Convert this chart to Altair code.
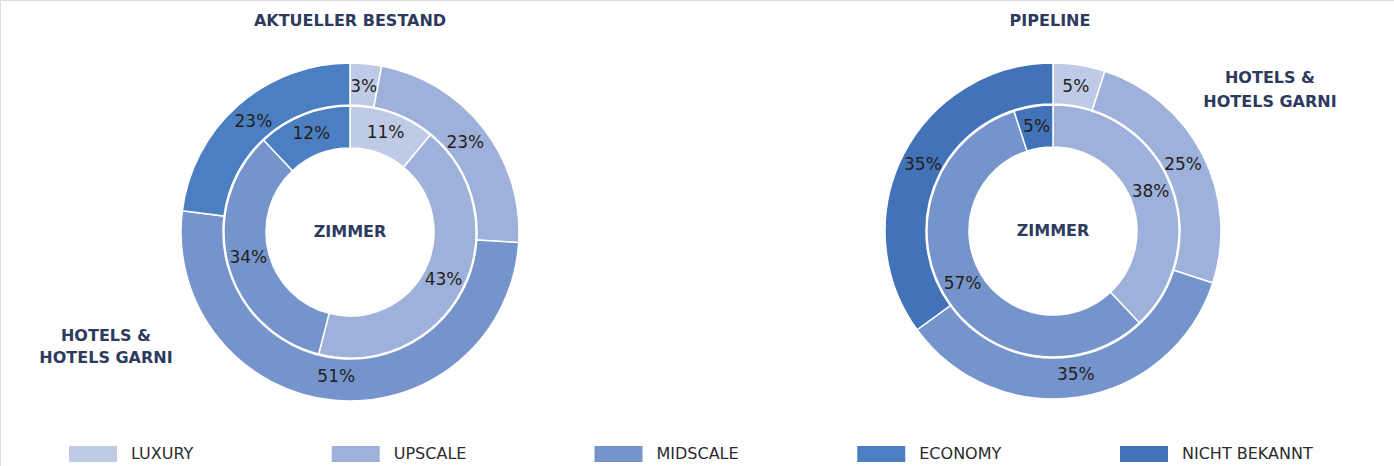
import altair as alt
import pandas as pd

# ---- data -------------------------------------------------------------
categories = ["LUXURY", "UPSCALE", "MIDSCALE", "ECONOMY", "NICHT BEKANNT"]
colors = ["#BFCBE6", "#9EB1DA", "#7594CB", "#4B7FC2", "#4273B8"]

bestand_hotels = [3, 23, 51, 23, 0]   # outer ring (Hotels & Hotels garni)
bestand_zimmer = [11, 43, 34, 12, 0]  # inner ring (Zimmer)
pipeline_hotels = [5, 25, 35, 0, 35]
pipeline_zimmer = [0, 38, 57, 0, 5]

panel_titles = ["AKTUELLER BESTAND", "PIPELINE"]
center_label = "ZIMMER"
ring_label = ["HOTELS &", "HOTELS GARNI"]

FONT = "DejaVu Sans"
NAVY = "#2E3B5E"
DARK = "#231F20"

rows = []
for panel, ring, vals in [
    ("bestand", "outer", bestand_hotels),
    ("bestand", "inner", bestand_zimmer),
    ("pipeline", "outer", pipeline_hotels),
    ("pipeline", "inner", pipeline_zimmer),
]:
    for i, (c, v) in enumerate(zip(categories, vals)):
        if v > 0:
            rows.append(dict(panel=panel, ring=ring, cat=c, idx=i, value=v, label=f"{v}%"))
df = pd.DataFrame(rows)
legend_df = pd.DataFrame({"cat": categories, "idx": list(range(len(categories)))})

color = alt.Color("cat:N", scale=alt.Scale(domain=categories, range=colors), legend=None)
theta = alt.Theta("value:Q", stack=True)
order = alt.Order("idx:Q")


def ring_layers(panel, ring, cx, cy, r_in, r_out, r_lab):
    base = alt.Chart(df).transform_filter(
        (alt.datum.panel == panel) & (alt.datum.ring == ring)
    )
    arc = base.mark_arc(
        innerRadius=r_in, outerRadius=r_out, stroke="white", strokeWidth=1.5
    ).encode(theta=theta, color=color, order=order, x=alt.value(cx), y=alt.value(cy))
    txt = base.mark_text(
        radius=r_lab, font=FONT, fontSize=17, color=DARK, baseline="middle", align="center"
    ).encode(theta=theta, order=order, text="label:N", x=alt.value(cx), y=alt.value(cy))
    return [arc, txt]


def label(text, x, y, size=16, weight="bold", color=NAVY):
    return alt.Chart(pd.DataFrame({"t": [text]})).mark_text(
        font=FONT, fontSize=size, fontWeight=weight, color=color,
        align="center", baseline="middle"
    ).encode(text="t:N", x=alt.value(x), y=alt.value(y))


layers = []
# left donut
LX, LY = 350, 232
layers += ring_layers("bestand", "outer", LX, LY, 127, 169, 146)
layers += ring_layers("bestand", "inner", LX, LY, 84, 126, 105)
# right donut
RX, RY = 1053, 231
layers += ring_layers("pipeline", "outer", RX, RY, 127, 168, 146)
layers += ring_layers("pipeline", "inner", RX, RY, 84, 126, 105)

layers.append(label(panel_titles[0], LX, 21))
layers.append(label(panel_titles[1], 1050, 21))
layers.append(label(center_label, LX, LY, size=16))
layers.append(label(center_label, RX, RY, size=16))
layers.append(label(ring_label[0], 106, 336))
layers.append(label(ring_label[1], 106, 358))
layers.append(label(ring_label[0], 1270, 78))
layers.append(label(ring_label[1], 1270, 102))

# legend drawn from the category list through an ordinal x scale
leg_x = alt.X("cat:N", sort=categories,
              scale=alt.Scale(domain=categories, range=[93, 1144], padding=0),
              axis=None)
leg_sw = alt.Chart(legend_df).mark_point(
    shape="M-1,-0.333H1V0.333H-1Z", filled=True, size=2304, opacity=1, strokeWidth=0
).encode(x=leg_x, y=alt.value(454), color=color)
leg_tx = alt.Chart(legend_df).mark_text(
    align="left", baseline="middle", dx=38, font=FONT, fontSize=16, color="#2B2B2B"
).encode(x=leg_x, y=alt.value(454), text="cat:N")
layers += [leg_sw, leg_tx]

chart = alt.layer(*layers).properties(
    width=1394, height=466, autosize=alt.AutoSizeParams(type="none"), padding=0
).configure_view(stroke=None).configure(background="white")

chart.save("out.html", embed_options={"renderer": "svg", "actions": False})
